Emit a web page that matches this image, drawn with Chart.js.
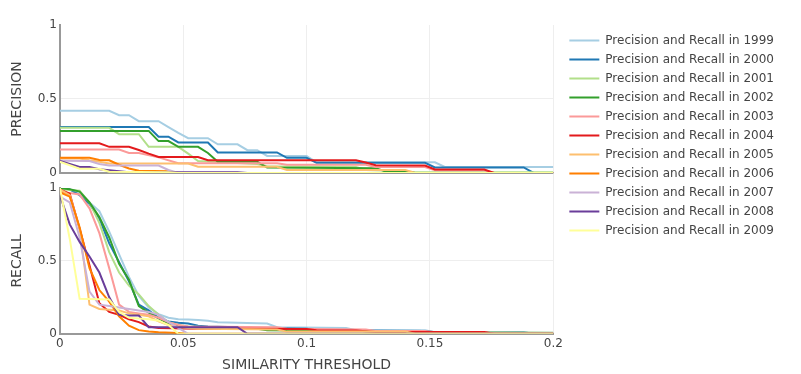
<!DOCTYPE html>
<html><head><meta charset="utf-8">
<script src="https://cdn.jsdelivr.net/npm/chart.js@4.4.1/dist/chart.umd.min.js"></script>
<style>html,body{margin:0;padding:0;background:#fff}#wrap{width:801px;height:374px;position:relative}</style>
</head><body><div id="wrap"><canvas id="c"></canvas></div>
<script>
const years = [1999, 2000, 2001, 2002, 2003, 2004, 2005, 2006, 2007, 2008, 2009];
const xTickValues = [0, 0.05, 0.1, 0.15, 0.2];
const xTickLabels = ['0', '0.05', '0.1', '0.15', '0.2'];
const yTickValues = [0, 0.5, 1];
const yTickLabels = ['0', '0.5', '1'];

const precision1999 = [[0,0.42],[0.02,0.42],[0.024,0.39],[0.028,0.39],[0.032,0.35],[0.04,0.35],[0.044,0.31],[0.048,0.27],[0.052,0.235],[0.06,0.235],[0.064,0.193],[0.072,0.193],[0.076,0.154],[0.08,0.154],[0.084,0.115],[0.1,0.115],[0.104,0.072],[0.152,0.072],[0.156,0.04],[0.2,0.04]];
const precision2000 = [[0,0.31],[0.036,0.31],[0.04,0.245],[0.044,0.245],[0.048,0.206],[0.06,0.206],[0.064,0.138],[0.088,0.138],[0.092,0.102],[0.1,0.102],[0.104,0.068],[0.148,0.068],[0.152,0.037],[0.188,0.037],[0.192,0],[0.2,0]];
const precision2001 = [[0,0.305],[0.02,0.305],[0.024,0.262],[0.032,0.262],[0.036,0.176],[0.048,0.176],[0.052,0.13],[0.056,0.08],[0.08,0.06],[0.084,0.045],[0.12,0.04],[0.124,0.02],[0.14,0.012],[0.144,0.004],[0.2,0.004]];
const precision2002 = [[0,0.284],[0.036,0.284],[0.04,0.215],[0.044,0.215],[0.048,0.176],[0.056,0.176],[0.06,0.135],[0.064,0.075],[0.08,0.075],[0.084,0.036],[0.128,0.032],[0.132,0.01],[0.14,0.01],[0.144,0],[0.2,0]];
const precision2003 = [[0,0.158],[0.024,0.158],[0.028,0.135],[0.032,0.135],[0.04,0.105],[0.048,0.066],[0.088,0.066],[0.092,0.055],[0.124,0.055],[0.128,0.04],[0.148,0.04],[0.152,0.018],[0.172,0.018],[0.176,0],[0.2,0]];
const precision2004 = [[0,0.2],[0.016,0.2],[0.02,0.176],[0.028,0.176],[0.032,0.155],[0.036,0.13],[0.04,0.108],[0.056,0.108],[0.06,0.086],[0.12,0.086],[0.124,0.07],[0.128,0.052],[0.148,0.05],[0.152,0.023],[0.172,0.023],[0.176,0],[0.2,0]];
const precision2005 = [[0,0.097],[0.008,0.097],[0.012,0.085],[0.016,0.075],[0.02,0.064],[0.052,0.064],[0.056,0.042],[0.088,0.042],[0.092,0.02],[0.14,0.02],[0.144,0],[0.2,0]];
const precision2006 = [[0,0.102],[0.012,0.102],[0.016,0.088],[0.02,0.085],[0.024,0.055],[0.028,0.03],[0.032,0.015],[0.044,0.012],[0.048,0],[0.2,0]];
const precision2007 = [[0,0.082],[0.012,0.08],[0.016,0.06],[0.02,0.05],[0.04,0.05],[0.044,0.02],[0.048,0],[0.2,0]];
const precision2008 = [[0,0.08],[0.004,0.06],[0.008,0.04],[0.012,0.04],[0.016,0.025],[0.02,0.018],[0.028,0.005],[0.072,0.005],[0.076,0],[0.2,0]];
const precision2009 = [[0,0.075],[0.008,0.028],[0.016,0.028],[0.02,0.008],[0.044,0.004],[0.048,0],[0.2,0]];

const recall1999 = [[0,1],[0.004,0.99],[0.008,0.96],[0.012,0.9],[0.016,0.84],[0.02,0.7],[0.024,0.545],[0.028,0.39],[0.032,0.26],[0.036,0.18],[0.04,0.135],[0.044,0.11],[0.048,0.1],[0.052,0.098],[0.056,0.095],[0.06,0.09],[0.064,0.08],[0.072,0.076],[0.084,0.07],[0.088,0.045],[0.116,0.04],[0.12,0.025],[0.148,0.025],[0.152,0.01],[0.2,0.008]];
const recall2000 = [[0,1],[0.004,0.99],[0.008,0.95],[0.012,0.89],[0.016,0.79],[0.02,0.62],[0.024,0.49],[0.028,0.36],[0.032,0.2],[0.036,0.16],[0.04,0.11],[0.044,0.085],[0.048,0.075],[0.052,0.07],[0.056,0.055],[0.06,0.05],[0.072,0.045],[0.076,0.04],[0.1,0.035],[0.104,0.025],[0.148,0.02],[0.152,0.01],[0.188,0.01],[0.192,0],[0.2,0]];
const recall2001 = [[0,0.99],[0.004,0.985],[0.008,0.98],[0.012,0.9],[0.016,0.76],[0.02,0.56],[0.024,0.42],[0.028,0.33],[0.032,0.27],[0.036,0.19],[0.04,0.13],[0.044,0.08],[0.048,0.06],[0.052,0.05],[0.06,0.045],[0.08,0.04],[0.084,0.03],[0.12,0.025],[0.124,0.015],[0.2,0.008]];
const recall2002 = [[0,1],[0.004,0.99],[0.008,0.975],[0.012,0.9],[0.016,0.8],[0.02,0.66],[0.024,0.48],[0.028,0.37],[0.032,0.19],[0.036,0.145],[0.04,0.105],[0.044,0.07],[0.048,0.055],[0.052,0.045],[0.06,0.04],[0.08,0.035],[0.084,0.025],[0.128,0.02],[0.132,0.01],[0.14,0.01],[0.144,0],[0.2,0]];
const recall2003 = [[0,0.97],[0.004,0.965],[0.008,0.955],[0.012,0.86],[0.016,0.69],[0.02,0.45],[0.024,0.2],[0.028,0.15],[0.032,0.14],[0.036,0.13],[0.04,0.11],[0.044,0.08],[0.048,0.06],[0.052,0.05],[0.088,0.045],[0.092,0.035],[0.124,0.03],[0.128,0.02],[0.148,0.02],[0.152,0.01],[0.172,0.01],[0.176,0],[0.2,0]];
const recall2004 = [[0,0.99],[0.004,0.96],[0.008,0.72],[0.012,0.47],[0.016,0.21],[0.02,0.15],[0.024,0.13],[0.028,0.1],[0.032,0.08],[0.036,0.05],[0.04,0.04],[0.056,0.035],[0.1,0.033],[0.104,0.025],[0.12,0.023],[0.128,0.013],[0.172,0.012],[0.176,0],[0.2,0]];
const recall2005 = [[0,0.99],[0.004,0.95],[0.008,0.72],[0.012,0.2],[0.016,0.17],[0.02,0.165],[0.024,0.16],[0.028,0.14],[0.032,0.13],[0.036,0.12],[0.04,0.085],[0.044,0.06],[0.048,0.045],[0.056,0.035],[0.088,0.03],[0.092,0.015],[0.14,0.015],[0.144,0],[0.2,0]];
const recall2006 = [[0,0.97],[0.004,0.94],[0.008,0.73],[0.012,0.45],[0.016,0.3],[0.02,0.22],[0.024,0.12],[0.028,0.055],[0.032,0.025],[0.036,0.015],[0.04,0.01],[0.048,0.005],[0.052,0],[0.2,0]];
const recall2007 = [[0,0.94],[0.004,0.9],[0.008,0.66],[0.012,0.29],[0.016,0.2],[0.02,0.19],[0.024,0.18],[0.028,0.17],[0.032,0.16],[0.036,0.15],[0.04,0.13],[0.044,0.08],[0.048,0.04],[0.052,0],[0.2,0]];
const recall2008 = [[0,0.95],[0.004,0.75],[0.008,0.63],[0.012,0.53],[0.016,0.42],[0.02,0.25],[0.024,0.13],[0.028,0.125],[0.032,0.125],[0.036,0.045],[0.072,0.045],[0.076,0],[0.2,0]];
const recall2009 = [[0,1],[0.004,0.65],[0.008,0.24],[0.02,0.235],[0.024,0.15],[0.028,0.11],[0.036,0.1],[0.04,0.09],[0.044,0.06],[0.048,0],[0.2,0]];

const precisionSeries = [precision1999, precision2000, precision2001, precision2002, precision2003, precision2004, precision2005, precision2006, precision2007, precision2008, precision2009];
const recallSeries = [recall1999, recall2000, recall2001, recall2002, recall2003, recall2004, recall2005, recall2006, recall2007, recall2008, recall2009];

const colors = ['#a6cee3','#1f78b4','#b2df8a','#33a02c','#fb9a99','#e31a1c','#fdbf6f','#ff7f00','#cab2d6','#6a3d9a','#ffff99'];
const toPts = arr => arr.map(([x, y]) => ({x, y}));

const datasets = [];
years.forEach((yr, i) => datasets.push({
  label: 'Precision and Recall in ' + yr, data: toPts(precisionSeries[i]), yAxisID: 'yP',
  borderColor: colors[i], backgroundColor: colors[i], borderWidth: 2, pointRadius: 0, order: -i
}));
years.forEach((yr, i) => datasets.push({
  label: 'Precision and Recall in ' + yr, data: toPts(recallSeries[i]), yAxisID: 'yR',
  borderColor: colors[i], backgroundColor: colors[i], borderWidth: 2, pointRadius: 0, order: -i
}));

Chart.defaults.font.family = 'DejaVu Sans';
Chart.defaults.font.size = 12;
Chart.defaults.color = '#444';

const AXIS = '#999', GRID = '#eee';
const yGrid = {
  drawTicks: false,
  color: c => c.tick.value === 0 ? AXIS : (c.tick.value === 1 ? 'rgba(0,0,0,0)' : GRID),
  lineWidth: c => c.tick.value === 0 ? 2 : 1
};
const yTicks = { padding: 3, callback: (v, i) => yTickLabels[i] };
const setYTicks = s => { s.ticks = yTickValues.map(v => ({value: v})); };

new Chart(document.getElementById('c'), {
  type: 'line',
  data: { datasets },
  options: {
    responsive: true, maintainAspectRatio: false, animation: false,
    layout: { padding: { top: 25, right: 17, bottom: 0, left: 5 } },
    plugins: {
      tooltip: { enabled: false },
      legend: {
        position: 'right', align: 'start', maxWidth: 240,
        title: { display: true, text: '', font: { size: 2 }, padding: 0 },
        labels: {
          boxWidth: 30, boxHeight: 0, padding: 7, color: '#444', font: { size: 12 },
          filter: item => item.datasetIndex < years.length,
          sort: (a, b) => a.datasetIndex - b.datasetIndex
        }
      }
    },
    scales: {
      x: {
        type: 'linear', position: 'bottom', min: 0, max: 0.2,
        afterBuildTicks: s => { s.ticks = xTickValues.map(v => ({value: v})); },
        ticks: { padding: 3, maxRotation: 0, autoSkip: false, callback: (v, i) => xTickLabels[i] },
        grid: { drawTicks: false, color: c => c.tick.value === 0 ? 'rgba(0,0,0,0)' : GRID },
        border: { color: AXIS, width: 2 },
        title: { display: true, text: 'SIMILARITY THRESHOLD', font: { size: 14 }, color: '#444', padding: { top: 3, bottom: 0 } }
      },
      yR: {
        type: 'linear', position: 'left', stack: 'v', stackWeight: 146, min: 0, max: 1,
        afterBuildTicks: setYTicks, ticks: yTicks, grid: yGrid,
        border: { color: AXIS, width: 2 },
        title: { display: true, text: 'RECALL', font: { size: 14 }, color: '#444', padding: { top: 4, bottom: 9 } }
      },
      yGap: {
        type: 'linear', position: 'left', stack: 'v', stackWeight: 15, min: 0, max: 1,
        ticks: { display: false }, grid: { display: false, drawTicks: false }, border: { display: false }
      },
      yP: {
        type: 'linear', position: 'left', stack: 'v', stackWeight: 148, min: 0, max: 1,
        afterBuildTicks: setYTicks, ticks: yTicks, grid: yGrid,
        border: { color: AXIS, width: 2 },
        title: { display: true, text: 'PRECISION', font: { size: 14 }, color: '#444', padding: { top: 4, bottom: 9 } }
      },
      yRight: {
        type: 'linear', position: 'right', min: 0, max: 1,
        ticks: { display: false }, grid: { display: false, drawTicks: false }, border: { display: false },
        afterFit: s => { s.width = 9; }
      }
    }
  }
});
</script>
</body></html>
